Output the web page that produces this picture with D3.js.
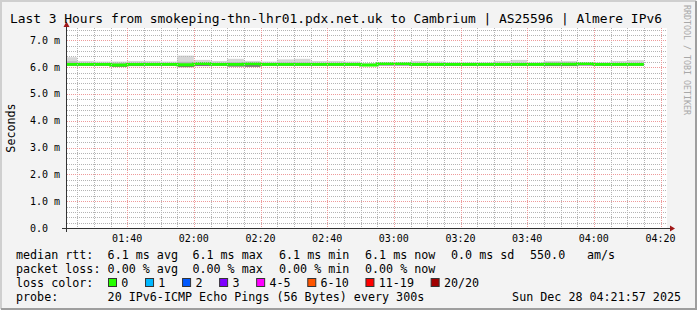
<!DOCTYPE html>
<html>
<head>
<meta charset="utf-8">
<style>
  body { margin: 0; background: #fff; }
  svg text { font-family: "DejaVu Sans Mono", monospace; white-space: pre; }
</style>
</head>
<body>
<svg id="chart" width="697" height="310"></svg>
<script src="https://cdn.jsdelivr.net/npm/d3@7/dist/d3.min.js"></script>
<script>
// chart text
var title = "Last 3 Hours from smokeping-thn-lhr01.pdx.net.uk to Cambrium | AS25596 | Almere IPv6";
var yTitle = "Seconds";
var stamp = "Sun Dec 28 04:21:57 2025";

// time window (UTC) and 5 minute steps
var viewStart = new Date(Date.UTC(2025, 11, 28, 1, 21, 57));
var viewEnd = new Date(Date.UTC(2025, 11, 28, 4, 21, 57));
var firstStep = new Date(Date.UTC(2025, 11, 28, 1, 20, 0));
var stepMin = 5;

// per step values, ms
var smokeMax = [6.37, 6.23, 6.21, 6.21, 6.23, 6.23, 6.21, 6.43, 6.27, 6.23, 6.31, 6.23,
                6.21, 6.29, 6.31, 6.23, 6.23, 6.21, 6.15, 6.18, 6.18, 6.23, 6.21, 6.18,
                6.18, 6.18, 6.23, 6.27, 6.18, 6.23, 6.23, 6.18, 6.18, 6.23, 6.26];
var smokeUpper = [6.22, 6.16, 6.15, 6.15, 6.16, 6.16, 6.15, 6.20, 6.18, 6.16, 6.18, 6.17,
                  6.15, 6.17, 6.17, 6.15, 6.15, 6.15, 6.13, 6.16, 6.16, 6.16, 6.15, 6.14,
                  6.14, 6.14, 6.15, 6.16, 6.14, 6.18, 6.18, 6.16, 6.14, 6.15, 6.16];
var medianRtt = [6.10, 6.10, 6.10, 6.08, 6.10, 6.10, 6.10, 6.09, 6.13, 6.10, 6.10, 6.12,
                 6.10, 6.10, 6.10, 6.10, 6.10, 6.10, 6.08, 6.13, 6.13, 6.10, 6.10, 6.10,
                 6.10, 6.10, 6.10, 6.10, 6.10, 6.11, 6.11, 6.13, 6.10, 6.10, 6.10];
var smokeMin = [6.05, 6.05, 6.05, 6.01, 6.04, 6.05, 6.05, 6.00, 6.04, 6.05, 6.02, 6.01,
                6.05, 6.05, 6.05, 6.05, 6.05, 6.05, 6.04, 6.06, 6.06, 6.05, 6.05, 6.05,
                6.05, 6.05, 6.05, 6.05, 6.05, 6.04, 6.04, 6.06, 6.05, 6.05, 6.05];

// y axis
var yMax = 7.46;
var yTicks = [0, 1, 2, 3, 4, 5, 6, 7];

// legend
var rttStats = ["6.1 ms avg", "6.1 ms max", "6.1 ms min", "6.1 ms now", "0.0 ms sd", "550.0", "am/s"];
var lossStats = ["0.00 % avg", "0.00 % max", "0.00 % min", "0.00 % now"];
var lossNames = ["0", "1", "2", "3", "4-5", "6-10", "11-19", "20/20"];
var lossColors = ["#26ff00", "#00b8ff", "#0059ff", "#7e00ff", "#ff00ff", "#ff5500", "#ff0000", "#a10000"];
var probeText = "20 IPv6-ICMP Echo Pings (56 Bytes) every 300s";

var W = 697, H = 310;
var pLeft = 67, pRight = 667, pTop = 28, pBottom = 228;

var svg = d3.select("#chart");

// background + frame
svg.append("rect").attr("width", W).attr("height", H).attr("fill", "#f3f3f3");
svg.append("path").attr("d", "M1,309V1H696").attr("stroke", "#cfcfcf").attr("stroke-width", 2).attr("fill", "none");
svg.append("path").attr("d", "M1,309H696V1").attr("stroke", "#9e9e9e").attr("stroke-width", 2).attr("fill", "none");

var x = d3.scaleUtc().domain([viewStart, viewEnd]).range([pLeft, pRight]);
var y = d3.scaleLinear().domain([0, yMax]).range([pBottom, pTop]);

svg.append("rect").attr("x", pLeft).attr("y", pTop)
  .attr("width", pRight - pLeft).attr("height", pBottom - pTop).attr("fill", "#fff");

svg.append("clipPath").attr("id", "plot")
  .append("rect").attr("x", pLeft).attr("y", pTop).attr("width", pRight - pLeft).attr("height", pBottom - pTop);

var steps = medianRtt.map(function(m, i) {
  var t0 = d3.utcMinute.offset(firstStep, i * stepMin);
  return {t0: t0, t1: d3.utcMinute.offset(t0, stepMin), max: smokeMax[i], up: smokeUpper[i], med: m, min: smokeMin[i]};
});

var data = svg.append("g").attr("clip-path", "url(#plot)");

// smoke
data.selectAll("rect.outer").data(steps).enter().append("rect")
  .attr("x", function(d) { return x(d.t0); })
  .attr("width", function(d) { return x(d.t1) - x(d.t0); })
  .attr("y", function(d) { return y(d.max); })
  .attr("height", function(d) { return y(d.min) - y(d.max); })
  .attr("fill", "#d6d6d6");
data.selectAll("rect.inner").data(steps).enter().append("rect")
  .attr("x", function(d) { return x(d.t0); })
  .attr("width", function(d) { return x(d.t1) - x(d.t0); })
  .attr("y", function(d) { return y(d.up); })
  .attr("height", function(d) { return y(d.med) - y(d.up); })
  .attr("fill", "#b8b8b8");
data.selectAll("rect.low").data(steps).enter().append("rect")
  .attr("x", function(d) { return x(d.t0); })
  .attr("width", function(d) { return x(d.t1) - x(d.t0); })
  .attr("y", function(d) { return y(d.med); })
  .attr("height", function(d) { return y(d.min) - y(d.med); })
  .attr("fill", "#7a7a7a");

// grid (dotted, one pixel on / one off)
var grid = svg.append("g");
var minorY = d3.range(0, yMax, 0.2).filter(function(v) { return Math.abs(v - Math.round(v)) > 0.01; });
grid.selectAll("line.my").data(minorY).enter().append("line")
  .attr("x1", pLeft).attr("x2", pRight)
  .attr("y1", function(d) { return Math.round(y(d)) + 0.5; })
  .attr("y2", function(d) { return Math.round(y(d)) + 0.5; })
  .attr("stroke", "#b4b4b4").attr("stroke-dasharray", "1,1");
var minorX = d3.utcMinute.every(5).range(viewStart, viewEnd).filter(function(t) { return t.getUTCMinutes() % 20 != 0; });
grid.selectAll("line.mx").data(minorX).enter().append("line")
  .attr("y1", pTop).attr("y2", pBottom)
  .attr("x1", function(d) { return Math.round(x(d)) + 0.5; })
  .attr("x2", function(d) { return Math.round(x(d)) + 0.5; })
  .attr("stroke", "#b4b4b4").attr("stroke-dasharray", "1,1");
grid.selectAll("line.My").data(yTicks.slice(1)).enter().append("line")
  .attr("x1", pLeft).attr("x2", pRight)
  .attr("y1", function(d) { return Math.round(y(d)) + 0.5; })
  .attr("y2", function(d) { return Math.round(y(d)) + 0.5; })
  .attr("stroke", "#ee9a9a").attr("stroke-dasharray", "1,1");
var majorX = d3.utcMinute.every(20).range(viewStart, viewEnd);
grid.selectAll("line.Mx").data(majorX).enter().append("line")
  .attr("y1", pTop).attr("y2", pBottom)
  .attr("x1", function(d) { return Math.round(x(d)) + 0.5; })
  .attr("x2", function(d) { return Math.round(x(d)) + 0.5; })
  .attr("stroke", "#ee9a9a").attr("stroke-dasharray", "1,1");

// median line
var medPts = steps.map(function(d) { return [d.t0, d.med]; });
medPts.push([steps[steps.length - 1].t1, steps[steps.length - 1].med]);
data.append("path")
  .attr("d", d3.line().curve(d3.curveStepAfter)
    .x(function(d) { return x(d[0]); })
    .y(function(d) { return y(d[1]); })(medPts))
  .attr("fill", "none").attr("stroke", "#22ff00").attr("stroke-width", 2.8);

// axes
var ax = svg.append("g").attr("shape-rendering", "crispEdges");
ax.append("line").attr("x1", 62).attr("x2", 672).attr("y1", pBottom + 0.5).attr("y2", pBottom + 0.5).attr("stroke", "#333");
ax.append("line").attr("x1", pLeft - 0.5).attr("x2", pLeft - 0.5).attr("y1", pBottom + 4).attr("y2", 24).attr("stroke", "#333");
svg.append("path").attr("d", "M670,225.5L675,228.5L670,231.5Z").attr("fill", "#a01818");
svg.append("path").attr("d", "M63.5,27L66.5,21.5L69.5,27Z").attr("fill", "#a01818");

// tick labels
svg.selectAll("text.xt").data(majorX).enter().append("text")
  .attr("x", function(d) { return x(d); }).attr("y", 242)
  .attr("text-anchor", "middle").attr("font-size", "10px").attr("fill", "#000")
  .text(d3.utcFormat("%H:%M"));
svg.selectAll("text.yt").data(yTicks).enter().append("text")
  .attr("x", 30).attr("y", function(d) { return y(d) + 3.5; })
  .attr("font-size", "10px").attr("fill", "#000")
  .text(function(d) { return d == 0 ? "0.0" : d.toFixed(1) + " m"; });

svg.append("text")
  .attr("transform", "translate(14.5," + ((pTop + pBottom) / 2) + ") rotate(-90)")
  .attr("text-anchor", "middle").attr("font-size", "11.7px").text(yTitle);

svg.append("text").attr("x", 10).attr("y", 23).attr("font-size", "12.9px").text(title);

svg.append("text")
  .attr("transform", "translate(683.5,5) rotate(90)")
  .attr("font-size", "8.3px").attr("fill", "#a8a8a8").text("RRDTOOL / TOBI OETIKER");

// legend
var lg = svg.append("g").attr("font-size", "11.7px").attr("fill", "#000");
var cols = [107.6, 192.4, 279, 365, 451, 530, 587];
lg.append("text").attr("x", 16).attr("y", 259).text("median rtt:");
rttStats.forEach(function(s, i) { lg.append("text").attr("x", cols[i]).attr("y", 259).text(s); });
lg.append("text").attr("x", 16).attr("y", 273).text("packet loss:");
lossStats.forEach(function(s, i) { lg.append("text").attr("x", cols[i]).attr("y", 273).text(s); });
lg.append("text").attr("x", 16).attr("y", 287).text("loss color:");
var bx = 108;
lossNames.forEach(function(s, i) {
  lg.append("rect").attr("x", bx + 0.5).attr("y", 278.5).attr("width", 8).attr("height", 8)
    .attr("fill", lossColors[i]).attr("stroke", "#333");
  lg.append("text").attr("x", bx + 13.3).attr("y", 287).text(s);
  bx += 13.3 + 7.04 * s.length + 16.7;
});
lg.append("text").attr("x", 16).attr("y", 300.5).text("probe:");
lg.append("text").attr("x", cols[0]).attr("y", 300.5).text(probeText);
lg.append("text").attr("x", 681).attr("y", 300.5).attr("text-anchor", "end").text(stamp);
</script>
</body>
</html>
